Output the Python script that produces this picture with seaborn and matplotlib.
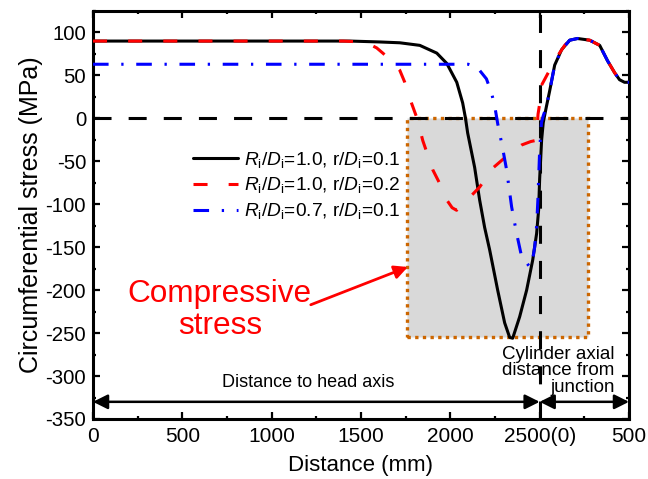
import matplotlib
matplotlib.use("Agg")
import matplotlib.pyplot as plt
from matplotlib.patches import Rectangle
from matplotlib.ticker import MultipleLocator
import seaborn as sns
import pandas as pd

# ---- data (distance in mm on a joint axis: 0-2500 head, 2500-3000 cylinder) ----
black_x = [0, 500, 1000, 1437, 1600, 1717, 1829, 1924, 1980, 2036, 2069, 2085, 2097, 2136, 2164, 2192,
           2220, 2265, 2304, 2332, 2349, 2388, 2427, 2461, 2483, 2494, 2500, 2511, 2520, 2537, 2556,
           2584, 2623, 2668, 2712, 2780, 2836, 2880, 2920, 2947, 2975, 3000]
black_y = [90, 90, 90, 90, 89, 88, 85, 76, 64, 42, 18, 0, -17, -57, -95, -127,
           -153, -200, -238, -255, -256, -231, -200, -165, -134, -107, -70, -25, -5, 13, 32,
           62, 80, 91, 93, 91, 85, 67, 53, 45, 42, 42]

red_x = [0, 500, 1000, 1400, 1500, 1560, 1588, 1622, 1665, 1717, 1745, 1784, 1812, 1846, 1902, 1941,
         1980, 2010, 2035, 2070, 2108, 2164, 2237, 2287, 2340, 2399, 2450, 2472, 2484, 2491, 2500,
         2509, 2545, 2595, 2640, 2668, 2712, 2780, 2836, 2880, 2920, 2947, 2975, 3000]
red_y = [90, 90, 90, 90, 89, 85, 82, 76, 68, 56, 42, 17, 1, -26, -60, -76,
         -95, -104, -107, -100, -92, -80, -58, -49, -40, -31, -27, -26, -15, 5, 17,
         38, 52, 71, 85, 91, 93, 91, 85, 67, 53, 45, 42, 42]

blue_x = [0, 500, 1000, 2000, 2100, 2148, 2202, 2230, 2248, 2265, 2293, 2315, 2332, 2343, 2371, 2399,
          2427, 2444, 2460, 2472, 2483, 2490, 2500, 2510, 2520, 2537, 2556, 2584, 2623, 2668, 2712,
          2780, 2836, 2880, 2920, 2947, 2975, 3000]
blue_y = [63, 63, 63, 63, 63, 60, 46, 30, 15, -6, -35, -60, -86, -103, -134, -161,
          -168, -173, -165, -150, -125, -95, -37, -5, 3, 13, 32, 62, 80, 91, 93,
          91, 85, 67, 53, 45, 42, 42]

labels = [r'$R_\mathrm{i}$/$D_\mathrm{i}$=1.0, r/$D_\mathrm{i}$=0.1',
          r'$R_\mathrm{i}$/$D_\mathrm{i}$=1.0, r/$D_\mathrm{i}$=0.2',
          r'$R_\mathrm{i}$/$D_\mathrm{i}$=0.7, r/$D_\mathrm{i}$=0.1']

xtick_pos = [0, 500, 1000, 1500, 2000, 2500, 3000]
xtick_lbl = ['0', '500', '1000', '1500', '2000', '2500(0)', '500']
ytick_pos = [100, 50, 0, -50, -100, -150, -200, -250, -300, -350]

box_x = [1756, 2768]
box_y = [-255, 0]

# ---- style ----
sns.set_theme(style="ticks")
plt.rcParams['font.family'] = ['Liberation Sans', 'DejaVu Sans']
plt.rcParams['mathtext.fontset'] = 'custom'
plt.rcParams['mathtext.rm'] = 'Liberation Sans'
plt.rcParams['mathtext.it'] = 'Liberation Sans:italic'
plt.rcParams['mathtext.bf'] = 'Liberation Sans:bold'
plt.rcParams['axes.unicode_minus'] = False
for k in ['text.color', 'axes.labelcolor', 'xtick.color', 'ytick.color', 'axes.edgecolor']:
    plt.rcParams[k] = 'black'

fig = plt.figure(figsize=(6.48, 4.79), dpi=100)
ax = fig.add_axes([93/648, 1-419/479, (629-93)/648, (419-11)/479])

# compressive zone box
ax.add_patch(Rectangle((box_x[0], box_y[0]), box_x[1]-box_x[0], box_y[1]-box_y[0],
                       facecolor='#d9d9d9', edgecolor='#CC6600', lw=2.4,
                       linestyle=(0, (1, 1.3)), zorder=1))

# reference lines
ax.axhline(0, color='black', lw=2.2, linestyle=(0, (5.9, 5.6)), zorder=2)
ax.axvline(2500, color='black', lw=2.2, linestyle=(0, (5.9, 5.6)), zorder=2)

df_b = pd.DataFrame({'x': black_x, 'y': black_y})
df_r = pd.DataFrame({'x': red_x, 'y': red_y})
df_u = pd.DataFrame({'x': blue_x, 'y': blue_y})
sns.lineplot(data=df_b, x='x', y='y', ax=ax, color='black', lw=2.2, sort=False,
             estimator=None, label=labels[0], zorder=3)
sns.lineplot(data=df_r, x='x', y='y', ax=ax, color='#FF0000', lw=2.2, sort=False,
             estimator=None, label=labels[1], linestyle=(0, (4.6, 6.9)), zorder=4)
sns.lineplot(data=df_u, x='x', y='y', ax=ax, color='#0000FF', lw=2.2, sort=False,
             estimator=None, label=labels[2], linestyle=(0, (5.1, 4.15, 0.75, 4.15)), zorder=5)

ax.set_xlim(0, 3000)
ax.set_ylim(-350, 125)
ax.set_xticks(xtick_pos)
ax.set_xticklabels(xtick_lbl)
ax.set_yticks(ytick_pos)
ax.xaxis.set_minor_locator(MultipleLocator(250))
ax.yaxis.set_minor_locator(MultipleLocator(25))
ax.tick_params(which='both', direction='in', top=True, right=True, color='black', width=1.6)
ax.tick_params(which='major', length=5)
ax.tick_params(which='minor', length=2.5)
ax.tick_params(axis='x', labelsize=15, pad=6)
ax.tick_params(axis='y', labelsize=14.7, pad=5)
for s in ax.spines.values():
    s.set_linewidth(2.2)
    s.set_color('black')
    s.set_visible(True)

ax.set_xlabel('Distance (mm)', fontsize=16, labelpad=6)
ax.set_ylabel('Circumferential stress (MPa)', fontsize=18, labelpad=2)

leg = ax.legend(loc='upper left', bbox_to_anchor=(0.187, 0.66), frameon=False,
                fontsize=13.8, handlelength=2.35, handletextpad=0.3, labelspacing=0.3,
                borderpad=0, borderaxespad=0)

# annotations
ax.text(710, -223, 'Compressive\nstress', color='#FF0000', fontsize=22.7,
        ha='center', va='center', linespacing=1.1)
ax.annotate('', xy=(1762, -173), xytext=(1219, -217),
            arrowprops=dict(arrowstyle='-|>', color='#FF0000', lw=2, mutation_scale=20,
                            shrinkA=0, shrinkB=0))

ax.annotate('', xy=(0, -330), xytext=(2500, -330),
            arrowprops=dict(arrowstyle='<|-|>', color='black', lw=1.8, mutation_scale=22,
                            shrinkA=0, shrinkB=0))
ax.annotate('', xy=(2500, -330), xytext=(3000, -330),
            arrowprops=dict(arrowstyle='<|-|>', color='black', lw=1.8, mutation_scale=22,
                            shrinkA=0, shrinkB=0))
ax.text(1205, -308, 'Distance to head axis', fontsize=13, ha='center', va='center')
ax.text(2919, -294, 'Cylinder axial\ndistance from\njunction', fontsize=13.5,
        ha='right', va='center', multialignment='right', linespacing=0.95)

fig.savefig('out.png', dpi=100)
